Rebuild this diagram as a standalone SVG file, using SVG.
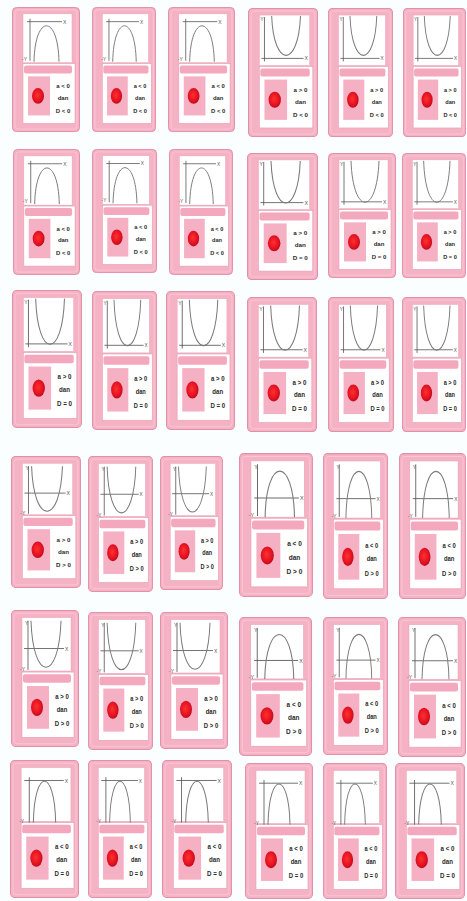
<svg xmlns="http://www.w3.org/2000/svg" xmlns:xlink="http://www.w3.org/1999/xlink" width="467" height="901" viewBox="0 0 467 901">
<style>
.t{font-family:"Liberation Sans",Arial,sans-serif;font-weight:bold;font-size:6px;fill:#2a2a2a;text-anchor:middle}
.ax{stroke:#555;stroke-width:0.8;fill:none}
.pb{stroke:#7a7a7a;stroke-width:1;fill:none}
.al{font-family:"Liberation Sans",Arial,sans-serif;font-size:5px;fill:#555}
</style>
<defs>
<radialGradient id="red" cx="0.45" cy="0.45" r="0.6">
<stop offset="0" stop-color="#ff3030"/>
<stop offset="0.7" stop-color="#e01020"/>
<stop offset="1" stop-color="#b00a18"/>
</radialGradient>
<g id="base">
<rect x="0.5" y="0.5" width="67" height="127" rx="4" fill="#f5b2c5" stroke="#e48fa8" stroke-width="1"/>
<rect x="3" y="3" width="62" height="122" rx="3" fill="none" stroke="#f9cbd8" stroke-width="0.8"/>
<rect x="11" y="7" width="49" height="50" fill="#ffffff" stroke="#eaa3b6" stroke-width="0.5"/>
<rect x="11" y="58" width="52" height="61" fill="#ffffff" stroke="#e6a0b3" stroke-width="0.6"/>
<rect x="12" y="60" width="48" height="8" rx="2" fill="#f3a8be"/>
<rect x="16" y="71" width="22" height="40" fill="#f5b0c4"/>
<ellipse cx="26" cy="91" rx="6" ry="8" fill="url(#red)"/>
</g>
<g id="gA">
<path class="ax" d="M18 12V55M15 15H50"/>
<text class="al" x="51" y="17">X</text>
<text class="al" x="10" y="55">-Y</text>
<path class="pb" d="M22 56C23 7 46 7 47 56"/>
</g>
<g id="gB">
<path class="ax" d="M16 9V53M13 50H54"/>
<text class="al" x="12" y="13">Y</text>
<text class="al" x="55" y="52">X</text>
<path class="pb" d="M23 8C25 60 49 60 51 8"/>
</g>
<g id="gC">
<path class="ax" d="M16 9V53M13 50H54"/>
<text class="al" x="12" y="13">Y</text>
<text class="al" x="55" y="52">X</text>
<path class="pb" d="M23 8C25 64.5 49 64.5 51 8"/>
</g>
<g id="gD">
<path class="ax" d="M17 10V56M13 36H53"/>
<text class="al" x="14" y="14">Y</text>
<text class="al" x="9" y="57">-Y</text>
<text class="al" x="54" y="38">X</text>
<path class="pb" d="M20 10C22 68 48 68 50 10"/>
</g>
<g id="gE">
<path class="ax" d="M17 10V56M14 40H55"/>
<text class="al" x="14" y="14">Y</text>
<text class="al" x="9" y="57">-Y</text>
<text class="al" x="56" y="42">X</text>
<path class="pb" d="M24 57C25 2.5 50 2.5 51 57"/>
</g>
<g id="gF">
<path class="ax" d="M19 16V58M14 19H53"/>
<text class="al" x="54" y="21">X</text>
<text class="al" x="9" y="58">-Y</text>
<path class="pb" d="M23 58C24 7 44 7 45 58"/>
</g>
</defs>
<rect width="467" height="901" fill="#fbfefe"/>
<g id="connectors"/>
<!-- Row 1 -->
<g id="card-r1c1" transform="translate(12,7) scale(1,0.977)"><use href="#base"/><use href="#gA"/><text class="t" x="51" y="83">a &lt; 0</text><text class="t" x="51" y="95">dan</text><text class="t" x="51" y="108">D &lt; 0</text></g>
<g id="card-r1c2" transform="translate(92,7) scale(0.941,0.977)"><use href="#base"/><use href="#gA"/><text class="t" x="51" y="83">a &lt; 0</text><text class="t" x="51" y="95">dan</text><text class="t" x="51" y="108">D &lt; 0</text></g>
<g id="card-r1c3" transform="translate(168,7) scale(0.985,0.977)"><use href="#base"/><use href="#gA"/><text class="t" x="51" y="83">a &lt; 0</text><text class="t" x="51" y="95">dan</text><text class="t" x="51" y="108">D &lt; 0</text></g>
<g id="card-r1c4" transform="translate(248,8) scale(1.029,1.008)"><use href="#base"/><use href="#gB"/><text class="t" x="51" y="83">a &gt; 0</text><text class="t" x="51" y="95">dan</text><text class="t" x="51" y="108">D &lt; 0</text></g>
<g id="card-r1c5" transform="translate(328,8) scale(0.956,1.008)"><use href="#base"/><use href="#gB"/><text class="t" x="51" y="83">a &gt; 0</text><text class="t" x="51" y="95">dan</text><text class="t" x="51" y="108">D &lt; 0</text></g>
<g id="card-r1c6" transform="translate(403,8) scale(0.926,1.008)"><use href="#base"/><use href="#gB"/><text class="t" x="51" y="83">a &gt; 0</text><text class="t" x="51" y="95">dan</text><text class="t" x="51" y="108">D &lt; 0</text></g>
<!-- Row 2 -->
<g id="card-r2c1" transform="translate(13,149) scale(0.985,0.984)"><use href="#base"/><use href="#gA"/><text class="t" x="51" y="83">a &lt; 0</text><text class="t" x="51" y="95">dan</text><text class="t" x="51" y="108">D &lt; 0</text></g>
<g id="card-r2c2" transform="translate(92,149) scale(0.956,0.969)"><use href="#base"/><use href="#gA"/><text class="t" x="51" y="83">a &lt; 0</text><text class="t" x="51" y="95">dan</text><text class="t" x="51" y="108">D &lt; 0</text></g>
<g id="card-r2c3" transform="translate(169,149) scale(0.941,0.984)"><use href="#base"/><use href="#gA"/><text class="t" x="51" y="83">a &lt; 0</text><text class="t" x="51" y="95">dan</text><text class="t" x="51" y="108">D &lt; 0</text></g>
<g id="card-r2c4" transform="translate(247,153) scale(1.044,0.992)"><use href="#base"/><use href="#gC"/><text class="t" x="51" y="83">a &gt; 0</text><text class="t" x="51" y="95">dan</text><text class="t" x="51" y="108">D = 0</text></g>
<g id="card-r2c5" transform="translate(328,153) scale(1.0,0.977)"><use href="#base"/><use href="#gC"/><text class="t" x="51" y="83">a &gt; 0</text><text class="t" x="51" y="95">dan</text><text class="t" x="51" y="108">D = 0</text></g>
<g id="card-r2c6" transform="translate(402,153) scale(0.941,0.977)"><use href="#base"/><use href="#gC"/><text class="t" x="51" y="83">a &gt; 0</text><text class="t" x="51" y="95">dan</text><text class="t" x="51" y="108">D = 0</text></g>
<!-- Row 3 -->
<g id="card-r3c1" transform="translate(12,290) scale(1.029,1.078)"><use href="#base"/><use href="#gC"/><text class="t" x="51" y="83">a &gt; 0</text><text class="t" x="51" y="95">dan</text><text class="t" x="51" y="108">D = 0</text></g>
<g id="card-r3c2" transform="translate(92,291) scale(0.956,1.086)"><use href="#base"/><use href="#gC"/><text class="t" x="51" y="83">a &gt; 0</text><text class="t" x="51" y="95">dan</text><text class="t" x="51" y="108">D = 0</text></g>
<g id="card-r3c3" transform="translate(166,291) scale(1.015,1.086)"><use href="#base"/><use href="#gC"/><text class="t" x="51" y="83">a &gt; 0</text><text class="t" x="51" y="95">dan</text><text class="t" x="51" y="108">D = 0</text></g>
<g id="card-r3c4" transform="translate(247,297) scale(1.029,1.055)"><use href="#base"/><use href="#gC"/><text class="t" x="51" y="83">a &gt; 0</text><text class="t" x="51" y="95">dan</text><text class="t" x="51" y="108">D = 0</text></g>
<g id="card-r3c5" transform="translate(328,297) scale(0.971,1.055)"><use href="#base"/><use href="#gC"/><text class="t" x="51" y="83">a &gt; 0</text><text class="t" x="51" y="95">dan</text><text class="t" x="51" y="108">D = 0</text></g>
<g id="card-r3c6" transform="translate(402,297) scale(0.941,1.055)"><use href="#base"/><use href="#gC"/><text class="t" x="51" y="83">a &gt; 0</text><text class="t" x="51" y="95">dan</text><text class="t" x="51" y="108">D = 0</text></g>
<!-- Row 4 -->
<g id="card-r4c1" transform="translate(11,456) scale(1.029,1.031)"><use href="#base"/><use href="#gD"/><text class="t" x="51" y="83">a &gt; 0</text><text class="t" x="51" y="95">dan</text><text class="t" x="51" y="108">D &gt; 0</text></g>
<g id="card-r4c2" transform="translate(88,456) scale(0.956,1.0625)"><use href="#base"/><use href="#gD"/><text class="t" x="51" y="83">a &gt; 0</text><text class="t" x="51" y="95">dan</text><text class="t" x="51" y="108">D &gt; 0</text></g>
<g id="card-r4c3" transform="translate(160,456) scale(0.926,1.047)"><use href="#base"/><use href="#gD"/><text class="t" x="51" y="83">a &gt; 0</text><text class="t" x="51" y="95">dan</text><text class="t" x="51" y="108">D &gt; 0</text></g>
<g id="card-r4c4" transform="translate(239,453) scale(1.088,1.125)"><use href="#base"/><use href="#gE"/><text class="t" x="51" y="83">a &lt; 0</text><text class="t" x="51" y="95">dan</text><text class="t" x="51" y="108">D &gt; 0</text></g>
<g id="card-r4c5" transform="translate(323,453) scale(0.956,1.141)"><use href="#base"/><use href="#gE"/><text class="t" x="51" y="83">a &lt; 0</text><text class="t" x="51" y="95">dan</text><text class="t" x="51" y="108">D &gt; 0</text></g>
<g id="card-r4c6" transform="translate(399,453) scale(0.985,1.141)"><use href="#base"/><use href="#gE"/><text class="t" x="51" y="83">a &lt; 0</text><text class="t" x="51" y="95">dan</text><text class="t" x="51" y="108">D &gt; 0</text></g>
<!-- Row 5 -->
<g id="card-r5c1" transform="translate(11,610) scale(1,1.070)"><use href="#base"/><use href="#gD"/><text class="t" x="51" y="83">a &gt; 0</text><text class="t" x="51" y="95">dan</text><text class="t" x="51" y="108">D &gt; 0</text></g>
<g id="card-r5c2" transform="translate(88,612) scale(0.956,1.078)"><use href="#base"/><use href="#gD"/><text class="t" x="51" y="83">a &gt; 0</text><text class="t" x="51" y="95">dan</text><text class="t" x="51" y="108">D &gt; 0</text></g>
<g id="card-r5c3" transform="translate(160,612) scale(1,1.070)"><use href="#base"/><use href="#gD"/><text class="t" x="51" y="83">a &gt; 0</text><text class="t" x="51" y="95">dan</text><text class="t" x="51" y="108">D &gt; 0</text></g>
<g id="card-r5c4" transform="translate(239,617) scale(1.074,1.086)"><use href="#base"/><use href="#gE"/><text class="t" x="51" y="83">a &lt; 0</text><text class="t" x="51" y="95">dan</text><text class="t" x="51" y="108">D &gt; 0</text></g>
<g id="card-r5c5" transform="translate(323,617) scale(0.956,1.078)"><use href="#base"/><use href="#gE"/><text class="t" x="51" y="83">a &lt; 0</text><text class="t" x="51" y="95">dan</text><text class="t" x="51" y="108">D &gt; 0</text></g>
<g id="card-r5c6" transform="translate(398,617) scale(1,1.094)"><use href="#base"/><use href="#gE"/><text class="t" x="51" y="83">a &lt; 0</text><text class="t" x="51" y="95">dan</text><text class="t" x="51" y="108">D &gt; 0</text></g>
<!-- Row 6 -->
<g id="card-r6c1" transform="translate(10,760) scale(1.015,1.078)"><use href="#base"/><use href="#gF"/><text class="t" x="51" y="83">a &lt; 0</text><text class="t" x="51" y="95">dan</text><text class="t" x="51" y="108">D = 0</text></g>
<g id="card-r6c2" transform="translate(88,760) scale(0.941,1.078)"><use href="#base"/><use href="#gF"/><text class="t" x="51" y="83">a &lt; 0</text><text class="t" x="51" y="95">dan</text><text class="t" x="51" y="108">D = 0</text></g>
<g id="card-r6c3" transform="translate(162,760) scale(1.029,1.078)"><use href="#base"/><use href="#gF"/><text class="t" x="51" y="83">a &lt; 0</text><text class="t" x="51" y="95">dan</text><text class="t" x="51" y="108">D = 0</text></g>
<g id="card-r6c4" transform="translate(245,763) scale(1,1.0625)"><use href="#base"/><use href="#gF"/><text class="t" x="51" y="83">a &lt; 0</text><text class="t" x="51" y="95">dan</text><text class="t" x="51" y="108">D = 0</text></g>
<g id="card-r6c5" transform="translate(323,763) scale(0.941,1.0625)"><use href="#base"/><use href="#gF"/><text class="t" x="51" y="83">a &lt; 0</text><text class="t" x="51" y="95">dan</text><text class="t" x="51" y="108">D = 0</text></g>
<g id="card-r6c6" transform="translate(395,763) scale(1.029,1.0625)"><use href="#base"/><use href="#gF"/><text class="t" x="51" y="83">a &lt; 0</text><text class="t" x="51" y="95">dan</text><text class="t" x="51" y="108">D = 0</text></g>
</svg>
